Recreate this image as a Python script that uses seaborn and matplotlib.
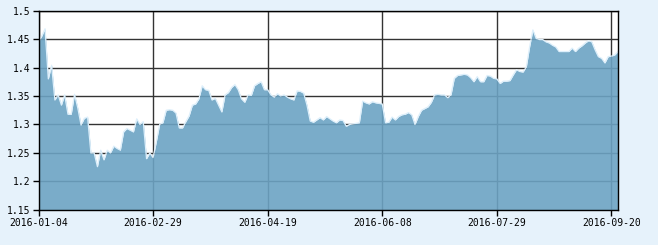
import matplotlib
matplotlib.use("Agg")
import matplotlib.pyplot as plt
import seaborn as sns
import numpy as np
import pandas as pd

values = [
    1.445, 1.455, 1.468, 1.380, 1.404, 1.343, 1.352, 1.334, 1.352, 1.318,
    1.318, 1.353, 1.329, 1.299, 1.311, 1.313, 1.250, 1.250, 1.226, 1.255,
    1.238, 1.255, 1.250, 1.262, 1.258, 1.255, 1.287, 1.293, 1.290, 1.287,
    1.310, 1.300, 1.305, 1.240, 1.250, 1.242, 1.270, 1.300, 1.303, 1.325,
    1.326, 1.325, 1.320, 1.294, 1.294, 1.305, 1.315, 1.334, 1.336, 1.345,
    1.368, 1.361, 1.360, 1.343, 1.346, 1.334, 1.322, 1.352, 1.356, 1.365,
    1.370, 1.361, 1.345, 1.339, 1.352, 1.351, 1.368, 1.372, 1.375, 1.361,
    1.361, 1.352, 1.348, 1.354, 1.350, 1.352, 1.348, 1.345, 1.343, 1.359,
    1.358, 1.355, 1.334, 1.306, 1.304, 1.308, 1.312, 1.308, 1.314, 1.310,
    1.306, 1.303, 1.308, 1.307, 1.297, 1.300, 1.301, 1.302, 1.303, 1.341,
    1.338, 1.336, 1.340, 1.338, 1.337, 1.336, 1.303, 1.304, 1.313, 1.308,
    1.314, 1.317, 1.318, 1.321, 1.317, 1.300, 1.314, 1.325, 1.328, 1.331,
    1.339, 1.352, 1.353, 1.352, 1.352, 1.347, 1.352, 1.381, 1.386, 1.387,
    1.388, 1.387, 1.382, 1.375, 1.384, 1.375, 1.375, 1.386, 1.385, 1.381,
    1.380, 1.372, 1.376, 1.376, 1.377, 1.387, 1.396, 1.393, 1.392, 1.401,
    1.436, 1.466, 1.451, 1.449, 1.449, 1.445, 1.443, 1.439, 1.436, 1.428,
    1.428, 1.428, 1.428, 1.434, 1.428, 1.434, 1.438, 1.443, 1.447, 1.445,
    1.431, 1.419, 1.416, 1.408, 1.419, 1.420, 1.422, 1.428,
]
tick_labels = ["2016-01-04", "2016-02-29", "2016-04-19", "2016-06-08", "2016-07-29", "2016-09-20"]
tick_step = 35
y_ticks = [1.15, 1.2, 1.25, 1.3, 1.35, 1.4, 1.45, 1.5]

df = pd.DataFrame({"idx": np.arange(len(values)), "value": values})

sns.set_style("white")
plt.rcParams["font.family"] = ["DejaVu Sans Mono"]

fig = plt.figure(figsize=(6.58, 2.45), dpi=100, facecolor="#E6F2FB")
ax = fig.add_axes([38.5 / 658, 35 / 245, (618 - 38.5) / 658, (210 - 10.5) / 245])
ax.set_facecolor("white")

ax.fill_between(df["idx"], 1.15, df["value"], color="#6CA3C3", alpha=0.9, lw=0, zorder=2)
sns.lineplot(data=df, x="idx", y="value", ax=ax, color="#DDEFFB", lw=0.9, zorder=3)

ax.set_xlim(0, len(values) - 1)
ax.set_ylim(1.15, 1.5)
ax.set_xticks([i * tick_step for i in range(len(tick_labels))])
ax.set_xticklabels(tick_labels)
ax.set_yticks(y_ticks)
ax.set_yticklabels([f"{v:g}" for v in y_ticks])
ax.set_xlabel("")
ax.set_ylabel("")

ax.grid(True, color="#333333", lw=1.0, zorder=1)
ax.set_axisbelow(True)
for s in ax.spines.values():
    s.set_color("black")
    s.set_linewidth(1.0)
    s.set_zorder(5)

ax.tick_params(axis="both", direction="out", length=4, width=1, color="black",
               labelsize=7, labelcolor="black", pad=2)
ax.tick_params(axis="x", bottom=True)
ax.tick_params(axis="y", left=True)

fig.savefig("out.png", dpi=100, facecolor=fig.get_facecolor())
